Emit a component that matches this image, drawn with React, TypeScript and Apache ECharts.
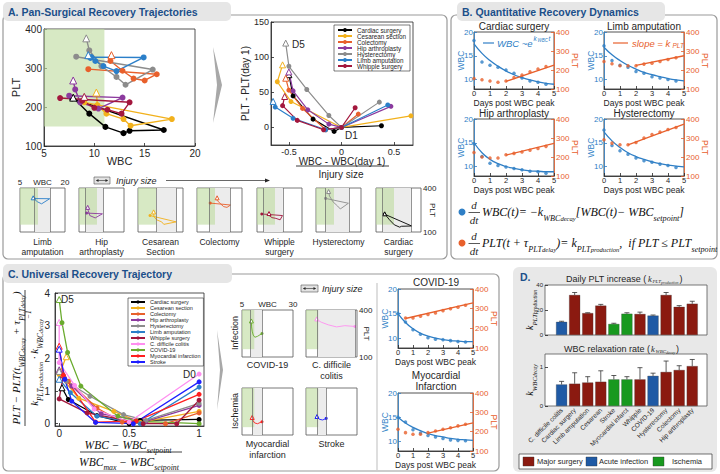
import React, { useEffect, useRef } from "react";
import * as echarts from "echarts";

// ================= DATA =================
// ---- Panel A: WBC / PLT trajectories (baseline -> peak -> following days, last = day 5)
const surgeryNames = ["Cardiac surgery", "Cesarean section", "Colectomy", "Hip arthroplasty", "Hysterectomy", "Limb amputation", "Whipple surgery"];
const cardiacTraj = [[7.8, 222], [16.9, 141], [13.5, 139], [12.9, 133], [11.1, 149], [9.5, 183], [7.9, 224]];
const cesareanTraj = [[9.0, 212], [17.7, 169], [13.6, 152], [12.9, 169], [11.2, 183], [10.3, 205], [10.2, 237]];
const colectomyTraj = [[9.4, 297], [16.2, 284], [15.0, 268], [13.9, 273], [12.8, 293], [11.6, 318], [11.7, 333]];
const hipTraj = [[7.5, 229], [12.8, 224], [10.4, 196], [8.6, 212], [8.1, 245], [7.9, 268]];
const hysterectomyTraj = [[8.2, 329], [15.8, 296], [13.1, 257], [12.2, 277], [10.7, 305], [9.5, 345], [9.2, 376]];
const limbTraj = [[9.7, 328], [14.9, 327], [12.2, 292], [10.9, 305], [10.1, 318], [9.6, 326], [9.4, 333]];
const whippleTraj = [[6.6, 223], [13.5, 212], [12.7, 183], [11.3, 193], [10.0, 198], [8.8, 216], [9.0, 226]];
const surgeryTraj = [cardiacTraj, cesareanTraj, colectomyTraj, hipTraj, hysterectomyTraj, limbTraj, whippleTraj];

// ---- Panel A: change relative to day 1 (x normalised by injury size)
const cardiacDelta = [[0.38, 2.4], [0, 0], [-0.07, -5.7], [-0.27, 11.8], [-0.46, 44.8], [-0.5, 75]];
const cesareanDelta = [[0.66, 16.5], [0, 0], [-0.48, 36.8], [-0.61, 65], [-0.56, 89]];
const colectomyDelta = [[0.16, 19], [0, 0], [-0.15, -3.3], [-0.37, 27], [-0.5, 53], [-0.53, 70]];
const hipDelta = [[0.47, 30], [0, 0], [-0.12, 4.7], [-0.32, 25], [-0.46, 52], [-0.5, 79]];
const hysterectomyDelta = [[0.36, 36], [0, 0], [-0.12, 17], [-0.33, 54], [-0.5, 87], [-0.53, 120]];
const limbDelta = [[0.44, 32], [0, 0], [-0.15, -3.3], [-0.46, 13], [-0.63, 29], [-0.65, 37]];
const whippleDelta = [[0.13, 28], [0, 0], [-0.17, -3.3], [-0.42, 10], [-0.56, 31], [-0.54, 44]];
const surgeryDelta = [cardiacDelta, cesareanDelta, colectomyDelta, hipDelta, hysterectomyDelta, limbDelta, whippleDelta];

const wbcSetpoint = [7.2, 11.2, 9.1, 7.2, 8.0, 9.8, 7.1];
const wbcMax = [16.6, 17.9, 16.0, 13.1, 16.0, 15.0, 13.6];
const normalWbc = [5, 11];
const normalPlt = [150, 400];
const miniOrder = ["Limb amputation", "Hip arthroplasty", "Cesarean section", "Colectomy", "Whipple surgery", "Hysterectomy", "Cardiac surgery"];
const miniLabels = [["Limb", "amputation"], ["Hip", "arthroplasty"], ["Cesarean", "Section"], ["Colectomy"], ["Whipple", "surgery"], ["Hysterectomy"], ["Cardiac", "surgery"]];

// ---- Panel B: time courses
const sampleDays = [0, 0.5, 1, 1.5, 2, 2.5, 3, 3.5, 4, 4.5];
const fitDays = [0, 0.5, 1, 1.5, 2, 2.5, 3, 3.5, 4, 4.5, 5];
const bNames = ["Cardiac surgery", "Limb amputation", "Hip arthroplasty", "Hysterectomy"];
const cardiacWbc = [18.2, 13.7, 13.0, 12.6, 12.0, 11.3, 10.3, 9.7, 9.4, 9.0];
const cardiacPlt = [155, 149, 142, 136, 142, 160, 173, 191, 205, 218];
const cardiacWbcFit = [17.5, 15.5, 14.0, 12.8, 11.8, 11.0, 10.4, 9.9, 9.5, 9.2, 9.0];
const cardiacPltFit = [[2, 140], [5, 226]];
const limbWbc = [17.1, 14.0, 13.0, 12.6, 11.7, 11.3, 10.6, 10.3, 10.0, 9.7];
const limbPlt = [245, 233, 222, 222, 222, 231, 236, 245, 255, 264];
const limbWbcFit = [16.8, 15.2, 14.0, 13.0, 12.2, 11.5, 11.0, 10.6, 10.2, 9.9, 9.7];
const limbPltFit = [[2, 224], [5, 275]];
const hipWbc = [14.8, 12.1, 10.7, 10.2, 9.9, 9.6, 9.3, 9.0, 8.9, 8.6];
const hipPlt = [224, 200, 195, 195, 212, 219, 226, 236, 245, 256];
const hipWbcFit = [15.0, 12.9, 11.5, 10.6, 10.0, 9.6, 9.3, 9.1, 9.0, 8.9, 8.9];
const hipPltFit = [[2, 210], [5, 272]];
const hystWbc = [17.7, 14.4, 13.3, 12.6, 11.8, 11.2, 10.9, 10.5, 10.2, 9.8];
const hystPlt = [291, 273, 264, 264, 276, 300, 318, 331, 345, 355];
const hystWbcFit = [17.3, 15.4, 14.0, 12.9, 12.1, 11.5, 11.0, 10.6, 10.3, 10.1, 9.9];
const hystPltFit = [[1.5, 264], [5, 373]];
const bWbc = [cardiacWbc, limbWbc, hipWbc, hystWbc];
const bPlt = [cardiacPlt, limbPlt, hipPlt, hystPlt];
const bWbcFit = [cardiacWbcFit, limbWbcFit, hipWbcFit, hystWbcFit];
const bPltFit = [cardiacPltFit, limbPltFit, hipPltFit, hystPltFit];

// ---- Panel C: normalised trajectories (from peak day to day 5)
const cNames = [...surgeryNames, "C. difficile colitis", "COVID-19", "Myocardial infarction", "Stroke"];
const cardiacNorm = [[1, 0.13], [0.58, 0.1], [0.5, 0], [0.27, 0.25], [0.065, 0.74], [0.02, 1.1]];
const cesareanNorm = [[1, 0.38], [0.58, 0.04], [0.39, 0.38], [0.14, 0.78], [0, 1.5], [0.05, 2.05]];
const colectomyNorm = [[1, 0.33], [0.76, 0], [0.45, 0.05], [0.27, 0.48], [0.065, 1.3], [0, 1.62]];
const hipNorm = [[1, 0.56], [0.62, 0.07], [0.3, 0.3], [0.09, 1.15], [0, 1.65]];
const hysterectomyNorm = [[1, 0.62], [0.62, 0.1], [0.46, 0.28], [0.22, 0.84], [0.05, 1.3], [0, 1.6]];
const limbNorm = [[1, 1.12], [0.58, 0], [0.27, 0.23], [0.08, 0.95], [0, 1.36]];
const whippleNorm = [[1, 0.72], [0.84, 0.0], [0.6, 0], [0.2, 0.33], [0, 0.76], [0.03, 1.5]];
const cdiffNorm = [[1, 1.52], [0.5, 0.05], [0.25, 0.45], [0.11, 1.17], [0, 1.87], [0, 3.1]];
const covidNorm = [[1, 0.0], [0.55, 0.08], [0.42, 0.23], [0.155, 1.15], [0.06, 2.18], [0.02, 3.09], [0, 3.8]];
const miNorm = [[1, 0.9], [0.55, 0.08], [0.26, 0.05], [0.03, 1.48], [0, 2.37]];
const strokeNorm = [[1, 1.28], [0.53, 0], [0.26, 0.04], [0.09, 0.69], [0.04, 1.36], [0, 2.28]];
const cNorm = [cardiacNorm, cesareanNorm, colectomyNorm, hipNorm, hysterectomyNorm, limbNorm, whippleNorm, cdiffNorm, covidNorm, miNorm, strokeNorm];

const cMiniNames = ["COVID-19", "C. difficile colitis", "Myocardial infarction", "Stroke"];
const covidTraj = [[14.8, 250], [12.6, 232], [11.3, 226], [10.5, 240], [10.0, 265], [9.7, 292], [9.6, 330]];
const cdiffTraj = [[29, 295], [24, 300], [20, 292], [16, 305], [12.5, 322], [10.6, 336], [10.3, 343]];
const miTraj = [[14.8, 185], [12.6, 172], [11.2, 177], [10.4, 192], [10.0, 212]];
const strokeTraj = [[14.9, 206], [13.2, 196], [11.6, 200], [10.7, 210], [10.4, 218]];
const cMiniTraj = [covidTraj, cdiffTraj, miTraj, strokeTraj];
const cMiniSetpoint = [9.2, 10.4, 10.0, 10.4];
const cMiniMax = [14.8, 29, 14.8, 14.9];

const covidWbc = [15.0, 13.3, 11.7, 10.8, 10.1, 9.8, 9.7, 9.5, 9.3, 9.2];
const covidPlt = [null, 252, 252, 261, 270, 278, 290, 300, 307, 317];
const covidWbcFit = [15.0, 13.2, 11.9, 11.0, 10.4, 10.0, 9.7, 9.5, 9.4, 9.3, 9.3];
const covidPltFit = [[0.5, 250], [5, 330]];
const miWbc = [15.0, 14.0, 12.4, 11.7, 11.2, 10.9, 10.6, 10.3, 10.2, 10.1];
const miPlt = [213, 195, 187, 187, 195, 203, 212, 220, 230, 238];
const miWbcFit = [15.0, 13.8, 12.9, 12.2, 11.6, 11.2, 10.9, 10.6, 10.4, 10.3, 10.2];
const miPltFit = [[2, 192], [5, 245]];

// ---- Panel D: rates
const dCategories = ["C. difficile colitis", "Cardiac surgery", "Limb amputation", "Cesarean", "Stroke", "Myocardial infarct", "Whipple", "COVID-19", "Hysterectomy", "Colectomy", "Hip arthroplasty"];
const dGroups = ["Acute infection", "Major surgery", "Major surgery", "Major surgery", "Ischemia", "Ischemia", "Major surgery", "Acute infection", "Major surgery", "Major surgery", "Major surgery"];
const pltProduction = [10.5, 32, 17.5, 23.5, 8.8, 17, 16.8, 15.5, 32, 22.5, 25];
const pltProductionErr = [0.5, 2, 0.3, 1, 0.6, 0.8, 1.5, 0.5, 2, 1, 2];
const wbcDecay = [0.55, 0.57, 0.6, 0.62, 0.68, 0.68, 0.68, 0.77, 0.87, 0.92, 1.02];
const wbcDecayErr = [0.08, 0.28, 0.15, 0.28, 0.1, 0.07, 0.3, 0.07, 0.28, 0.11, 0.17];
const groupNames = ["Major surgery", "Acute infection", "Ischemia"];

// ================= STYLE =================
const FONT = "Liberation Sans";
const SERIF = "Liberation Serif";
const INK = "#262626";
const TITLE_BLUE = "#1b4f8a";
const WBC_BLUE = "#2f7fc6";
const PLT_ORANGE = "#e8602c";
const surgeryColors = ["#000000", "#f2b11c", "#e8602c", "#8c3a9e", "#8c8c8c", "#2b7fc9", "#a3173d"];
const cColors = [...surgeryColors, "#ff8ff0", "#6aab2e", "#ff1f1f", "#1f1fff"];
const groupColors: any = { "Major surgery": "#8b1a10", "Acute infection": "#1f5aa5", Ischemia: "#18991f" };

function vAxis(o: any) {
  const color = o.color || INK;
  const ax: any = {
    type: "value", min: o.min, max: o.max, position: o.position,
    splitLine: { show: false },
    axisLine: { show: o.line !== false, onZero: false, lineStyle: { color, width: 0.8 } },
    axisTick: { show: o.ticks !== false, inside: true, length: 3, lineStyle: { color, width: 0.8 } },
    axisLabel: { show: o.labels !== false, fontSize: o.fs ?? 10, color, fontFamily: FONT, margin: o.margin ?? 2 },
    name: o.name, nameLocation: "middle", nameGap: o.nameGap ?? 20, nameRotate: o.nameRotate,
    nameMoveOverlap: false,
    nameTextStyle: { fontSize: o.ns ?? 11, color, fontFamily: FONT },
  };
  if (o.interval != null) ax.interval = o.interval;
  if (o.at) { ax.axisTick.customValues = o.at; ax.axisLabel.customValues = o.at; }
  if (o.formatter) ax.axisLabel.formatter = o.formatter;
  if (o.rotate) ax.axisLabel.rotate = o.rotate;
  return ax;
}

const txt = (x: number, y: number, text: string, o: any = {}) => ({
  type: "text", x, y, z: 50, rotation: o.rot || 0, silent: true,
  style: {
    text, fill: o.color || INK, fontSize: o.fs || 10, fontFamily: o.ff || FONT,
    fontWeight: o.fw || "normal", fontStyle: o.fst || "normal",
    align: o.align || "left", verticalAlign: o.va || "middle",
    ...(o.rich ? { rich: o.rich } : {}),
  },
});
const ln = (x1: number, y1: number, x2: number, y2: number, color = INK, w = 0.8) => ({
  type: "line", z: 50, silent: true, shape: { x1, y1, x2, y2 }, style: { stroke: color, lineWidth: w },
});
const poly = (pts: number[][], fill: string, z = 50) => ({ type: "polygon", z, silent: true, shape: { points: pts }, style: { fill } });
const box = (x: number, y: number, w: number, h: number, style: any, z = 50, r: any = 0) => ({
  type: "rect", z, silent: true, shape: { x, y, width: w, height: h, r }, style,
});

const mathRich = (fs: number, color: string, family = SERIF) => ({
  m: { fontFamily: family, fontStyle: "italic", fontSize: fs, lineHeight: fs + 8, fill: color },
  s: { fontFamily: family, fontStyle: "italic", fontSize: fs * 0.68, lineHeight: 6, verticalAlign: "bottom", fill: color },
  ss: { fontFamily: family, fontStyle: "italic", fontSize: fs * 0.55, lineHeight: 2, verticalAlign: "bottom", fill: color },
  p: { fontFamily: family, fontStyle: "italic", fontSize: fs * 0.68, lineHeight: 6, verticalAlign: "top", fill: color },
});

function buildOption() {
  const grid: any[] = [], xAxis: any[] = [], yAxis: any[] = [], series: any[] = [], graphic: any[] = [];
  const addGrid = (g: any, xa: any, ya: any) => {
    grid.push({ show: true, borderColor: INK, borderWidth: 0.8, backgroundColor: "#fff", containLabel: false, ...g });
    const gi = grid.length - 1;
    xAxis.push({ ...xa, gridIndex: gi });
    yAxis.push({ ...ya, gridIndex: gi });
    return { gi, xi: xAxis.length - 1, yi: yAxis.length - 1 };
  };
  const trajSeries = (name: string, pts: number[][], color: string, g: any, sym: number, lw: number, tri: number, firstDot = 0) => ({
    type: "line", name, xAxisIndex: g.xi, yAxisIndex: g.yi, z: 3,
    symbol: "circle", symbolSize: sym, showSymbol: true,
    lineStyle: { color, width: lw }, itemStyle: { color },
    data: pts.map((p, k) =>
      k === pts.length - 1
        ? { value: p, symbol: "triangle", symbolSize: tri, itemStyle: { color: "#fff", borderColor: color, borderWidth: 1 } }
        : k === 0 && firstDot ? { value: p, symbolSize: firstDot } : p),
  });
  const shadeSeries = (g: any, sp: number, mx: number, yMin: number, yMax: number, withLines: boolean) => ({
    type: "scatter", xAxisIndex: g.xi, yAxisIndex: g.yi, data: [], z: 1, silent: true,
    markArea: {
      silent: true,
      data: [
        ...(withLines ? [[{ coord: [sp, yMin], itemStyle: { color: "#ececec" } }, { coord: [mx, yMax] }]] : []),
        [{ coord: [normalWbc[0], normalPlt[0]], itemStyle: { color: "rgba(190,220,160,0.62)" } }, { coord: [normalWbc[1], normalPlt[1]] }],
      ],
    },
    markLine: withLines ? {
      silent: true, symbol: "none", label: { show: false },
      lineStyle: { color: "#666", width: 0.7, type: "solid" },
      data: [{ xAxis: sp }, { xAxis: mx }],
    } : undefined,
  });

  // ---------- Panel frames ----------
  graphic.push(box(3, 15, 444, 244, { fill: "#fff", stroke: "#9a9a9a", lineWidth: 1.2 }, -10, 5));
  graphic.push(box(451, 15, 266, 244, { fill: "#fff", stroke: "#9a9a9a", lineWidth: 1.2 }, -10, 5));
  graphic.push(box(3, 274, 496, 197, { fill: "#fff", stroke: "#9a9a9a", lineWidth: 1.2 }, -10, 5));
  graphic.push(box(513, 267, 204, 205, { fill: "#e8e8e8" }, -10, 6));
  graphic.push(box(3, 2, 228, 19, { fill: "#e6e6e6" }, -5, 5));
  graphic.push(box(457, 2, 208, 19, { fill: "#e6e6e6" }, -5, 5));
  graphic.push(box(3, 264, 229, 19, { fill: "#e6e6e6" }, -5, 5));
  graphic.push(txt(8, 11.5, "A. Pan-Surgical Recovery Trajectories", { fs: 10.5, fw: "bold", color: TITLE_BLUE }));
  graphic.push(txt(462, 11.5, "B. Quantitative Recovery Dynamics", { fs: 10.5, fw: "bold", color: TITLE_BLUE }));
  graphic.push(txt(8, 273.5, "C. Universal Recovery Trajectory", { fs: 10.5, fw: "bold", color: TITLE_BLUE }));
  graphic.push(txt(520, 277, "D.", { fs: 10.5, fw: "bold", color: TITLE_BLUE }));

  // ---------- Panel A main ----------
  const am = addGrid({ left: 44, top: 29, width: 151, height: 117 },
    vAxis({ min: 5, max: 20, interval: 5, fs: 10, name: "WBC", nameGap: 9, ns: 11 }),
    vAxis({ min: 100, max: 400, interval: 100, fs: 10, name: "PLT", nameGap: 23, ns: 11 }));
  series.push(shadeSeries(am, 0, 0, 0, 0, false));
  surgeryNames.forEach((nm, i) => series.push(trajSeries("A " + nm, surgeryTraj[i], surgeryColors[i], am, 6, 1.4, 7)));
  graphic.push(poly([[213, 47], [222, 85], [213, 123], [217, 85]], "#a8a8a8"));

  // ---------- Panel A delta ----------
  const ad = addGrid({ left: 271, top: 22, width: 142, height: 123 },
    vAxis({ min: -0.67, max: 0.68, at: [-0.5, 0, 0.5], fs: 9 }),
    vAxis({ min: -25, max: 150, at: [0, 50, 100, 150], fs: 9, name: "PLT - PLT(day 1)", nameGap: 21, ns: 10 }));
  surgeryNames.forEach((nm, i) => series.push(trajSeries(nm, surgeryDelta[i], surgeryColors[i], ad, 5, 1.2, 6)));
  graphic.push(txt(342, 161, "WBC - WBC(day 1)", { fs: 10, align: "center" }));
  graphic.push(ln(296, 166, 389, 166, INK, 0.9));
  graphic.push(txt(341, 174, "Injury size", { fs: 10, align: "center" }));
  graphic.push(txt(292, 44, "D5", { fs: 10 }));
  graphic.push(txt(345, 135, "D1", { fs: 10 }));

  // injury size indicator (A)
  graphic.push(box(94, 177, 16, 7, { fill: "#e2e2e2", stroke: "#555", lineWidth: 0.6 }));
  graphic.push(ln(96.5, 180.5, 107.5, 180.5, INK, 0.6));
  graphic.push(poly([[96, 180.5], [98.5, 179], [98.5, 182]], INK, 51));
  graphic.push(poly([[108, 180.5], [105.5, 179], [105.5, 182]], INK, 51));
  graphic.push(txt(116, 180.5, "Injury size", { fs: 9, fst: "italic" }));
  graphic.push(ln(166, 180.5, 266, 180.5, INK, 0.7));
  graphic.push(poly([[270, 180.5], [265, 178.5], [265, 182.5]], INK));

  // ---------- Panel A minis ----------
  const miniLeft = [20, 79, 138, 197, 257, 316, 376];
  miniOrder.forEach((nm, k) => {
    const i = surgeryNames.indexOf(nm);
    const first = k === 0, last = k === miniOrder.length - 1;
    const g = addGrid({ left: miniLeft[k], top: 188, width: 45, height: 44, borderColor: "#555" },
      vAxis({ min: 5, max: 20, at: [5, 20], labels: first, ticks: false, line: false, position: "top", name: first ? "WBC" : undefined, nameGap: 2, ns: 8, fs: 8 }),
      vAxis({ min: 100, max: 400, at: [100, 400], labels: last, ticks: false, line: false, position: "right", name: last ? "PLT" : undefined, nameGap: 7, nameRotate: -90, ns: 8, fs: 8 }));
    series.push(shadeSeries(g, wbcSetpoint[i], wbcMax[i], 100, 400, true));
    series.push(trajSeries("mini " + nm, surgeryTraj[i], surgeryColors[i], g, 0, 0.9, 4, 3));
    miniLabels[k].forEach((s, j) => graphic.push(txt(miniLeft[k] + 22.5, 242 + j * 10, s, { fs: 8.5, align: "center" })));
  });

  // ---------- Panel B ----------
  const bPos = [[474, 32], [604, 32], [474, 119], [604, 119]];
  bNames.forEach((nm, k) => {
    const g = addGrid({ left: bPos[k][0], top: bPos[k][1], width: 80, height: 57 },
      vAxis({ min: 0, max: 5, interval: 1, fs: 7.5, margin: 0, name: "Days post WBC peak", nameGap: 9, ns: 8.5 }),
      vAxis({ min: 8, max: 20, at: [10, 15, 20], fs: 8, margin: 1, color: WBC_BLUE, name: "WBC", nameGap: 9, ns: 8.5 }));
    yAxis.push({ ...vAxis({ min: 100, max: 400, interval: 100, fs: 8, margin: 2, color: PLT_ORANGE, position: "right", name: "PLT", nameGap: 16, nameRotate: -90, ns: 8.5 }), gridIndex: g.gi });
    const yr = yAxis.length - 1;
    series.push({ type: "line", xAxisIndex: g.xi, yAxisIndex: g.yi, smooth: true, symbol: "none", lineStyle: { color: WBC_BLUE, width: 1.3 }, data: fitDays.map((d, j) => [d, bWbcFit[k][j]]), z: 3 });
    series.push({ type: "line", xAxisIndex: g.xi, yAxisIndex: yr, symbol: "none", lineStyle: { color: PLT_ORANGE, width: 1.3 }, data: bPltFit[k], z: 3 });
    series.push({ type: "scatter", xAxisIndex: g.xi, yAxisIndex: g.yi, symbolSize: 3.5, itemStyle: { color: WBC_BLUE }, data: sampleDays.map((d, j) => [d, bWbc[k][j]]), z: 4 });
    series.push({ type: "scatter", xAxisIndex: g.xi, yAxisIndex: yr, symbolSize: 3.5, itemStyle: { color: PLT_ORANGE }, data: sampleDays.map((d, j) => [d, bPlt[k][j]]), z: 4 });
    graphic.push(txt(bPos[k][0] + 40, bPos[k][1] - 6, nm, { fs: 10, align: "center" }));
  });
  // inline legends
  graphic.push(ln(483, 43, 494, 43, WBC_BLUE, 1.2));
  graphic.push(txt(497, 43, "WBC ~e", { fs: 9.5, fst: "italic", color: WBC_BLUE }));
  graphic.push(txt(533.5, 38.5, "k", { fs: 6.5, fst: "italic", color: WBC_BLUE }));
  graphic.push(txt(537.5, 40, "WBC", { fs: 4.5, fst: "italic", color: WBC_BLUE }));
  graphic.push(txt(548.5, 38.5, "t", { fs: 6.5, fst: "italic", color: WBC_BLUE }));
  graphic.push(ln(613, 43, 628, 43, PLT_ORANGE, 1.2));
  graphic.push(txt(632, 43, "slope = k", { fs: 9.5, fst: "italic", color: PLT_ORANGE }));
  graphic.push(txt(672.5, 45.5, "PLT", { fs: 6.5, fst: "italic", color: PLT_ORANGE }));

  // equations
  const eqRich = mathRich(12, "#111");
  [[212, WBC_BLUE, "{m|WBC(t)= −k}{s|WBC}{ss|decay}{m|[WBC(t)− WBC}{s|setpoint}{m|]}"],
   [243, PLT_ORANGE, "{m|PLT(t + τ}{s|PLT}{ss|delay}{m|)= k}{s|PLT}{ss|production}{m|,  if PLT ≤ PLT}{s|setpoint}"]].forEach(([y, c, t]: any) => {
    graphic.push({ type: "circle", z: 50, silent: true, shape: { cx: 462, cy: y, r: 3.5 }, style: { fill: c } });
    graphic.push(txt(474, y - 7, "d", { fs: 11, ff: SERIF, fst: "italic", align: "center" }));
    graphic.push(ln(468.5, y + 0.5, 480, y + 0.5, "#111", 0.7));
    graphic.push(txt(474, y + 8, "dt", { fs: 11, ff: SERIF, fst: "italic", align: "center" }));
    graphic.push(txt(482, y, t, { rich: eqRich, color: "#111" }));
  });

  // ---------- Panel C main ----------
  const cm = addGrid({ left: 55, top: 293, width: 149, height: 133 },
    vAxis({ min: -0.03, max: 1.035, at: [0, 0.5, 1], fs: 10, margin: 2 }),
    vAxis({ min: -0.07, max: 4, at: [0, 1, 2, 3, 4], fs: 10, margin: 5 }));
  cNames.forEach((nm, i) => series.push(trajSeries(nm, cNorm[i], cColors[i], cm, 5, 1.3, 6)));
  graphic.push(txt(61, 299, "D5", { fs: 10 }));
  graphic.push(txt(183, 374, "D0", { fs: 10 }));
  const fr = mathRich(11.5, "#111");
  graphic.push(txt(128, 445, "{m|WBC − WBC}{s|setpoint}", { rich: fr, align: "center" }));
  graphic.push(ln(80, 452, 182, 452, "#111", 0.8));
  graphic.push(txt(129, 462, "{m|WBC}{s|max}{m| − WBC}{s|setpoint}", { rich: fr, align: "center" }));
  graphic.push({
    type: "group", x: 25, y: 358, rotation: Math.PI / 2, z: 50, silent: true,
    children: [
      txt(0, -9, "{m|PLT − PLT(t}{s|WBC}{ss|decay}{m| + τ}{s|PLT}{ss|delay}{m|)}", { rich: mathRich(11, "#111"), align: "center" }),
      ln(-68, 0, 68, 0, "#111", 0.8),
      txt(0, 9, "{m|k}{s|PLT}{ss|production}{m| · k}{s|WBC}{ss|decay}{p|−1}", { rich: mathRich(11, "#111"), align: "center" }),
    ],
  });
  graphic.push(poly([[217, 330], [223, 370], [217, 410], [220, 370]], "#a8a8a8"));
  graphic.push(txt(235, 333, "Infection", { fs: 9, rot: Math.PI / 2, align: "center" }));
  graphic.push(txt(235, 411, "Ischemia", { fs: 9, rot: Math.PI / 2, align: "center" }));
  graphic.push(ln(377, 283, 377, 470, "#bdbdbd", 1));
  // injury size indicator (C)
  graphic.push(box(301, 285, 17, 7, { fill: "#e2e2e2", stroke: "#555", lineWidth: 0.6 }));
  graphic.push(ln(303.5, 288.5, 315.5, 288.5, INK, 0.6));
  graphic.push(poly([[303, 288.5], [305.5, 287], [305.5, 290]], INK, 51));
  graphic.push(poly([[316, 288.5], [313.5, 287], [313.5, 290]], INK, 51));
  graphic.push(txt(322, 288.5, "Injury size", { fs: 9, fst: "italic" }));

  // ---------- Panel C minis ----------
  const cMiniPos = [[242, 310], [306, 310], [242, 388], [306, 388]];
  const cMiniColor = [cColors[8], cColors[7], cColors[9], cColors[10]];
  const cMiniLabels = [["COVID-19"], ["C. difficile", "colitis"], ["Myocardial", "infarction"], ["Stroke"]];
  cMiniNames.forEach((nm, k) => {
    const g = addGrid({ left: cMiniPos[k][0], top: cMiniPos[k][1], width: 51, height: 47, borderColor: "#555" },
      vAxis({ min: 5, max: 30, at: [5, 30], labels: k === 0, ticks: false, line: false, position: "top", name: k === 0 ? "WBC" : undefined, nameGap: 2, ns: 8, fs: 8 }),
      vAxis({ min: 100, max: 400, at: [100, 400], labels: k === 1, ticks: false, line: false, position: "right", name: k === 1 ? "PLT" : undefined, nameGap: 5, nameRotate: -90, ns: 8, fs: 8 }));
    series.push(shadeSeries(g, cMiniSetpoint[k], cMiniMax[k], 100, 400, true));
    series.push(trajSeries("mini " + nm, cMiniTraj[k], cMiniColor[k], g, 0, 0.9, 4, 3));
    const ly = k < 2 ? 365 : 444;
    cMiniLabels[k].forEach((s, j) => graphic.push(txt(cMiniPos[k][0] + 25.5, ly + j * 10.5, s, { fs: 9, align: "center" })));
  });

  // ---------- Panel C time courses ----------
  const tsPos = [[398, 289, 59], [398, 393, 58]];
  const tsWbc = [covidWbc, miWbc], tsPlt = [covidPlt, miPlt], tsWbcFit = [covidWbcFit, miWbcFit], tsPltFit = [covidPltFit, miPltFit];
  tsPos.forEach((p, k) => {
    const g = addGrid({ left: p[0], top: p[1], width: 75, height: p[2] },
      vAxis({ min: 0, max: 5, interval: 1, fs: 7.5, margin: 0, name: "Days post WBC peak", nameGap: 9, ns: 8.5 }),
      vAxis({ min: 8, max: 20, at: [10, 15, 20], fs: 8, margin: 1, color: WBC_BLUE, name: "WBC", nameGap: 9, ns: 8.5 }));
    yAxis.push({ ...vAxis({ min: 100, max: 400, interval: 100, fs: 8, margin: 2, color: PLT_ORANGE, position: "right", name: "PLT", nameGap: 16, nameRotate: -90, ns: 8.5 }), gridIndex: g.gi });
    const yr = yAxis.length - 1;
    series.push({ type: "line", xAxisIndex: g.xi, yAxisIndex: g.yi, smooth: true, symbol: "none", lineStyle: { color: WBC_BLUE, width: 1.3 }, data: fitDays.map((d, j) => [d, tsWbcFit[k][j]]), z: 3 });
    series.push({ type: "line", xAxisIndex: g.xi, yAxisIndex: yr, symbol: "none", lineStyle: { color: PLT_ORANGE, width: 1.3 }, data: tsPltFit[k], z: 3 });
    series.push({ type: "scatter", xAxisIndex: g.xi, yAxisIndex: g.yi, symbolSize: 3.5, itemStyle: { color: WBC_BLUE }, data: sampleDays.map((d, j) => [d, tsWbc[k][j]]), z: 4 });
    series.push({ type: "scatter", xAxisIndex: g.xi, yAxisIndex: yr, symbolSize: 3.5, itemStyle: { color: PLT_ORANGE }, data: sampleDays.map((d, j) => [d, tsPlt[k][j]]).filter((q) => q[1] != null), z: 4 });
  });
  graphic.push(txt(436, 282, "COVID-19", { fs: 10, align: "center" }));
  graphic.push(txt(436, 375, "Myocardial", { fs: 10, align: "center" }));
  graphic.push(txt(436, 386.5, "Infarction", { fs: 10, align: "center" }));

  // ---------- Panel D ----------
  const dPos = dCategories.map((_, k) => k + 1);
  const dTop = addGrid({ left: 545, top: 285, width: 162, height: 50, borderColor: "#555" },
    vAxis({ min: -0.27, max: 12.13, labels: false, ticks: false, line: false }),
    vAxis({ min: 0, max: 40, at: [0, 20, 40], fs: 6, margin: 2, line: false }));
  const dBot = addGrid({ left: 545, top: 354, width: 162, height: 52, borderColor: "#555" },
    vAxis({ min: -0.27, max: 12.13, at: dPos, ticks: false, line: false, fs: 6.5, margin: 3, rotate: 45, formatter: (v: number) => dCategories[Math.round(v) - 1] || "" }),
    vAxis({ min: 0, max: 1.33, at: [0, 1], fs: 6, margin: 2, line: false }));
  [[dTop, pltProduction, pltProductionErr], [dBot, wbcDecay, wbcDecayErr]].forEach(([g, vals, errs]: any) => {
    series.push({
      type: "bar", xAxisIndex: g.xi, yAxisIndex: g.yi, barWidth: 11, z: 2,
      data: vals.map((v: number, k: number) => ({ value: [dPos[k], v], itemStyle: { color: groupColors[dGroups[k]], borderColor: "#3a3a3a", borderWidth: 0.3 } })),
    });
    series.push({
      type: "custom", xAxisIndex: g.xi, yAxisIndex: g.yi, z: 4, silent: true,
      data: vals.map((v: number, k: number) => [dPos[k], v, errs[k]]),
      encode: { x: 0, y: 1 },
      renderItem: (params: any, api: any) => {
        const x = api.value(0), v = api.value(1), e = api.value(2);
        const p0 = api.coord([x, v]), p1 = api.coord([x, v + e]);
        const st = { stroke: "#333", lineWidth: 0.8 };
        return {
          type: "group", children: [
            { type: "line", shape: { x1: p0[0], y1: p0[1], x2: p1[0], y2: p1[1] }, style: st },
            { type: "line", shape: { x1: p1[0] - 2.5, y1: p1[1], x2: p1[0] + 2.5, y2: p1[1] }, style: st },
          ],
        };
      },
    });
  });
  // D titles (pieces)
  graphic.push(txt(566, 279, "Daily PLT increase (", { fs: 9 }));
  graphic.push(txt(648, 279, "k", { fs: 8.5, ff: SERIF, fst: "italic" }));
  graphic.push(txt(652.5, 281, "PLT", { fs: 5, ff: SERIF, fst: "italic" }));
  graphic.push(txt(661, 282.5, "production", { fs: 4, ff: SERIF, fst: "italic" }));
  graphic.push(txt(679.5, 279, ")", { fs: 9 }));
  graphic.push(txt(564, 349, "WBC relaxation rate (", { fs: 9 }));
  graphic.push(txt(651, 349, "k", { fs: 8.5, ff: SERIF, fst: "italic" }));
  graphic.push(txt(655.5, 351, "WBC", { fs: 5, ff: SERIF, fst: "italic" }));
  graphic.push(txt(666, 352.5, "decay", { fs: 4, ff: SERIF, fst: "italic" }));
  graphic.push(txt(676, 349, ")", { fs: 9 }));
  graphic.push(txt(529, 310, "{m|k}{s|PLT}{ss|production}", { rich: mathRich(10, "#111"), rot: Math.PI / 2, align: "center" }));
  graphic.push(txt(529, 380, "{m|k}{s|WBC}{ss|decay}", { rich: mathRich(10, "#111"), rot: Math.PI / 2, align: "center" }));
  graphic.push(box(519, 454, 193, 15, { fill: "#fff", stroke: "#333", lineWidth: 0.7 }, 40));
  const legX = [[523, 537], [586, 599], [653, 672]];
  groupNames.forEach((nm, k) => {
    graphic.push(box(legX[k][0], 457, 11, 9, { fill: groupColors[nm], stroke: "#333", lineWidth: 0.4 }, 45));
    graphic.push(txt(legX[k][1], 461.5, nm, { fs: 7.5 }));
  });

  const legendBase = {
    orient: "vertical", backgroundColor: "#fff", borderColor: INK, borderWidth: 0.6,
    selectedMode: false, z: 20, itemGap: 0, itemWidth: 16, itemHeight: 5,
  };

  return {
    animation: false,
    backgroundColor: "#fff",
    textStyle: { fontFamily: FONT },
    grid, xAxis, yAxis, series, graphic,
    legend: [
      { ...legendBase, left: 334, top: 25, padding: [2, 4, 2, 3], itemWidth: 14, data: surgeryNames, textStyle: { fontSize: 6.3, fontFamily: FONT, color: INK } },
      { ...legendBase, left: 128, top: 298, padding: [1, 3, 1, 2], itemWidth: 14, itemHeight: 4, data: cNames, textStyle: { fontSize: 5.5, fontFamily: FONT, color: INK } },
    ],
  };
}

export default function App() {
  const ref = useRef<HTMLDivElement>(null);
  useEffect(() => {
    if (!ref.current) return;
    const chart = echarts.init(ref.current, undefined, { renderer: "svg" });
    chart.setOption(buildOption() as any);
    return () => chart.dispose();
  }, []);
  return <div ref={ref} style={{ position: "fixed", left: 0, top: 0, width: 720, height: 474, background: "#fff" }} />;
}
